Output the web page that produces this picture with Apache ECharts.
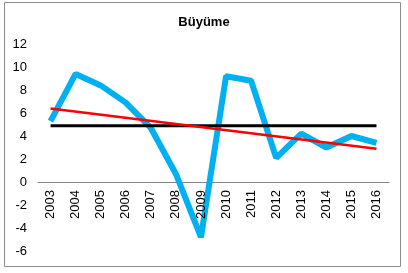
<!DOCTYPE html>
<html><head><meta charset="utf-8">
<script src="https://cdn.jsdelivr.net/npm/echarts@6/dist/echarts.min.js"></script>
<style>html,body{margin:0;padding:0;background:#fff}#c{width:408px;height:273px}</style>
</head><body><div id="c"></div>
<script>
const categories = ['2003','2004','2005','2006','2007','2008','2009','2010','2011','2012','2013','2014','2015','2016'];
const growth = [5.3, 9.4, 8.4, 6.9, 4.7, 0.7, -4.8, 9.2, 8.8, 2.1, 4.2, 3.0, 4.0, 3.4];
const averageLine = [['2003', 4.9], ['2016', 4.9]];
const trendLine = [['2003', 6.4], ['2016', 2.9]];
const yTicks = {min: -6, max: 12, interval: 2};

const gridTop = 44, gridBottom = 22, H = 273;
const plotH = H - gridTop - gridBottom;
const zeroOffset = plotH * (0 - yTicks.min) / (yTicks.max - yTicks.min);

const chart = echarts.init(document.getElementById('c'), null, {renderer: 'canvas'});
chart.setOption({
  animation: false,
  title: {text: 'Büyüme', left: 'center', top: 11,
    textStyle: {fontFamily: 'Liberation Sans', fontSize: 13, fontWeight: 'bold', color: '#000'}},
  graphic: [{type: 'rect', shape: {x: 4.5, y: 2.5, width: 396, height: 264},
    style: {fill: 'none', stroke: '#8c8c8c', lineWidth: 1}, silent: true}],
  grid: {left: 38, right: 19, top: gridTop, bottom: gridBottom, containLabel: false, outerBoundsMode: 'none'},
  xAxis: [
    {type: 'category', data: categories, boundaryGap: true, position: 'bottom', offset: -zeroOffset, z: 0,
      axisLine: {onZero: false, lineStyle: {color: '#868686', width: 1}},
      axisTick: {show: false}, axisLabel: {show: false}},
    {type: 'category', data: categories, boundaryGap: true, position: 'bottom', offset: -zeroOffset, z: 10,
      axisLine: {show: false, onZero: false}, axisTick: {show: false},
      axisLabel: {rotate: 90, margin: 8, color: '#000', fontFamily: 'Liberation Sans', fontSize: 13}}
  ],
  yAxis: {type: 'value', min: yTicks.min, max: yTicks.max, interval: yTicks.interval,
    axisLine: {show: false}, axisTick: {show: false}, splitLine: {show: false},
    axisLabel: {color: '#000', fontFamily: 'Liberation Sans', fontSize: 13, margin: 11}},
  series: [
    {type: 'line', xAxisIndex: 0, data: growth, symbol: 'none', lineStyle: {color: '#00B0F0', width: 6}, z: 2},
    {type: 'line', xAxisIndex: 0, data: averageLine, symbol: 'none', lineStyle: {color: '#000', width: 3}, z: 3},
    {type: 'line', xAxisIndex: 0, data: trendLine, symbol: 'none', lineStyle: {color: '#FF0000', width: 2.5}, z: 4}
  ]
});
</script></body></html>
